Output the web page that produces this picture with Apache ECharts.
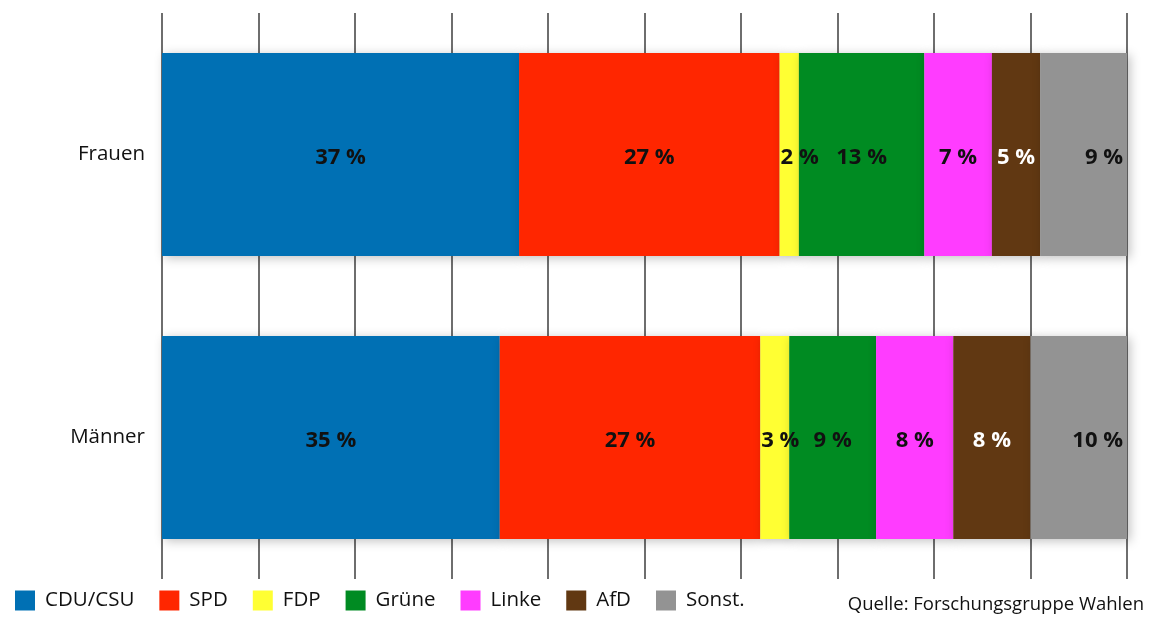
<!DOCTYPE html>
<html>
<head>
<meta charset="utf-8">
<script src="https://cdn.jsdelivr.net/npm/echarts@6/dist/echarts.min.js"></script>
<style>
  html, body { margin: 0; padding: 0; background: #fff; }
  #chart { width: 1152px; height: 619px; }
</style>
</head>
<body>
<div id="chart"></div>
<script>
// Wahl nach Geschlecht
const groups = ['Frauen', 'Männer']
const parties = ['CDU/CSU', 'SPD', 'FDP', 'Grüne', 'Linke', 'AfD', 'Sonst.']
const partyColors = ['#0070b4', '#ff2600', '#ffff33', '#008b22', '#ff3cff', '#613812', '#939393']
const cduCsu = [37, 35]
const spd = [27, 27]
const fdp = [2, 3]
const gruene = [13, 9]
const linke = [7, 8]
const afd = [5, 8]
const sonst = [9, 10]
const values = [cduCsu, spd, fdp, gruene, linke, afd, sonst]
const ticks = [0, 10, 20, 30, 40, 50, 60, 70, 80, 90, 100]

const font = '"Open Sans", "DejaVu Sans", sans-serif'

const chart = echarts.init(document.getElementById('chart'), null, { renderer: 'canvas' })

let series = parties.map((name, i) => {
  let pos = 'inside'
  let dist = 5
  if (name === 'FDP') { pos = 'insideLeft'; dist = 1 }
  if (name === 'Sonst.') { pos = 'insideRight'; dist = 4 }
  return {
    name: name,
    type: 'bar',
    stack: 'total',
    barWidth: 203,
    itemStyle: {
      color: partyColors[i],
      shadowBlur: 10,
      shadowOffsetX: 3,
      shadowOffsetY: 2,
      shadowColor: 'rgba(0, 0, 0, 0.25)'
    },
    label: {
      show: true,
      position: pos,
      distance: dist,
      offset: [0, 3],
      formatter: '{c} %',
      color: name === 'AfD' ? '#ffffff' : '#111111',
      fontFamily: font,
      fontWeight: 'bold',
      fontSize: 22
    },
    data: values[i]
  }
})

let option = {
  animation: false,
  backgroundColor: '#ffffff',
  grid: {
    left: 162,
    right: 25,
    top: 13,
    bottom: 40
  },
  xAxis: {
    type: 'value',
    min: 0,
    max: ticks[ticks.length - 1],
    interval: 10,
    axisLabel: { show: false },
    axisLine: { show: false },
    axisTick: { show: false },
    splitLine: {
      show: true,
      lineStyle: { color: '#6e6e6e', width: 2 }
    }
  },
  yAxis: {
    type: 'category',
    data: groups,
    inverse: true,
    axisLine: { show: false },
    axisTick: { show: false },
    axisLabel: {
      margin: 17,
      color: '#111111',
      fontFamily: font,
      fontSize: 20.5,
      padding: [4, 0, 0, 0]
    }
  },
  legend: {
    left: 10,
    bottom: 3,
    itemWidth: 20,
    itemHeight: 20,
    itemGap: 25,
    icon: 'rect',
    textStyle: {
      color: '#111111',
      fontFamily: font,
      fontSize: 20.5,
      padding: [0, 0, 0, 5]
    },
    data: parties
  },
  graphic: [{
    type: 'text',
    right: 8,
    bottom: 5,
    style: {
      text: 'Quelle: Forschungsgruppe Wahlen',
      fill: '#111111',
      font: '18.5px ' + font
    }
  }],
  series: series
}

chart.setOption(option)
</script>
</body>
</html>
